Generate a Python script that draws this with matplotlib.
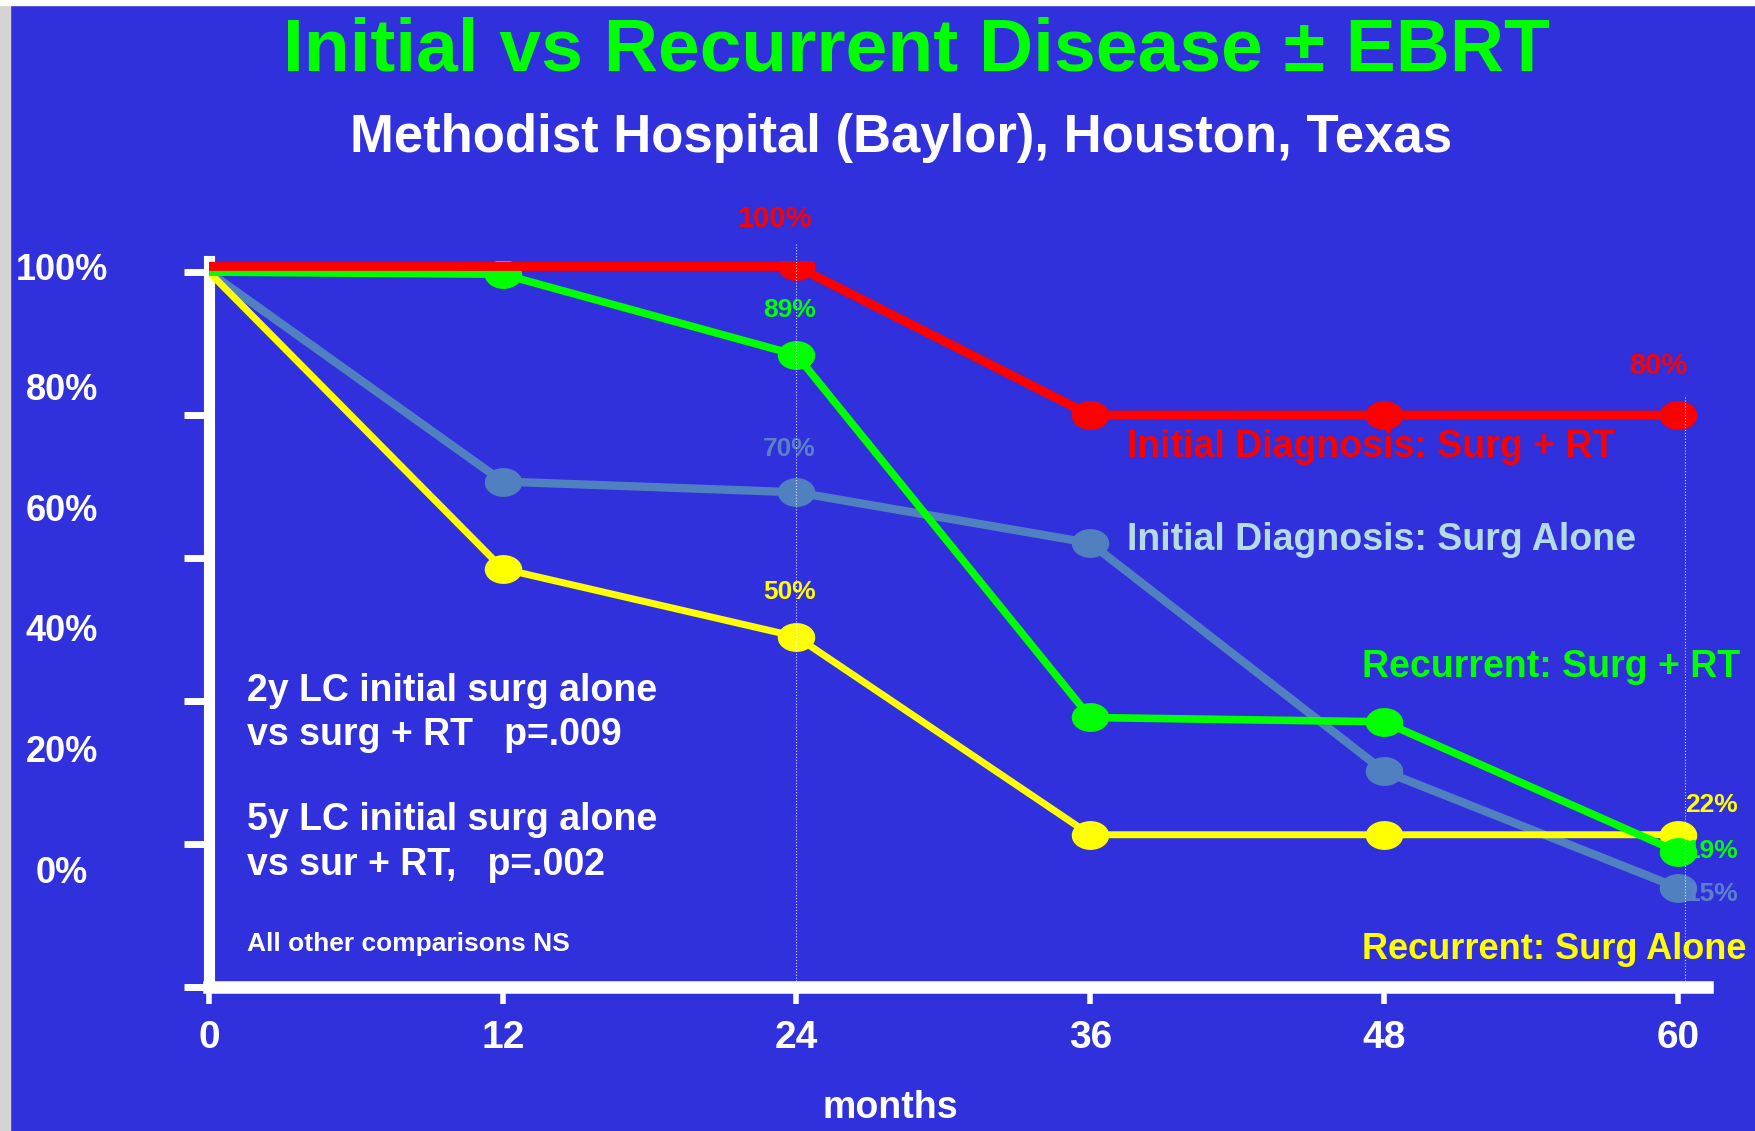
import numpy as np
import matplotlib
matplotlib.use('Agg')
import matplotlib.pyplot as plt
from matplotlib.path import Path
from matplotlib.patches import Rectangle
from matplotlib import font_manager

# local control (%)
months = [0, 12, 24, 36, 48, 60]
init_rt = [100.8, 100.8, 100.8, 80, 80, 80]
init_alone = [100, 70.7, 69.2, 62.1, 30.2, 13.9]
rec_rt = [100, 99.7, 88.4, 37.7, 37.1, 18.9]
rec_alone = [100, 58.5, 49.0, 21.3, 21.3, 21.3]

y_ticks = [0, 20, 40, 60, 80, 100]
y_labels = ['0%', '20%', '40%', '60%', '80%', '100%']
x_labels = ['0', '12', '24', '36', '48', '60']

BG = '#3030DD'
RED = '#FF0000'
GREEN = '#00FF00'
YELLOW = '#FFFF00'
GREY = '#5080C0'

names = {f.name for f in font_manager.fontManager.ttflist}
NARROW = 'Liberation Sans Narrow' if 'Liberation Sans Narrow' in names else 'Liberation Sans'
WIDE = 'Liberation Sans'

# oval marker (wider than tall, like the slide)
t = np.linspace(0, 2 * np.pi, 60)
oval = Path(np.column_stack([np.cos(t), 0.76 * np.sin(t)]))

fig = plt.figure(figsize=(17.55, 11.31), dpi=100, facecolor=BG)
fig.patches.append(Rectangle((0, 0), 10 / 1755, 1, transform=fig.transFigure,
                             color='#D4D4D4', zorder=0))
fig.patches.append(Rectangle((0, 1 - 5 / 1131), 1, 5 / 1131, transform=fig.transFigure,
                             color='white', zorder=0))

ax = fig.add_axes([0.1191, 0.1273, 0.8536, 0.6416])
ax.set_facecolor(BG)
ax.set_xlim(0, 61.2)
ax.set_ylim(0, 101.5)

ax.plot(months, init_alone, color=GREY, lw=6, marker=oval, ms=26, mec=GREY,
        markevery=[1, 2, 3, 4, 5], zorder=2)
ax.plot(months, rec_alone, color=YELLOW, lw=5, marker=oval, ms=26, mec=YELLOW,
        markevery=[1, 2, 3, 4, 5], zorder=3)
ax.plot(months, rec_rt, color=GREEN, lw=5.5, marker=oval, ms=26, mec=GREEN,
        markevery=[1, 2, 3, 4, 5], zorder=4)
ax.plot(months, init_rt, color=RED, lw=6.5, marker=oval, ms=26, mec=RED,
        markevery=[2, 3, 4, 5], zorder=5)

ax.vlines([24, 60.3], 0, [104, 82.8], colors='white', linestyles=':', lw=0.8,
          alpha=0.8, clip_on=False, zorder=6)

for s in ['top', 'right']:
    ax.spines[s].set_visible(False)
ax.spines['left'].set_linewidth(8)
ax.spines['bottom'].set_linewidth(9)
ax.spines['left'].set_color('white')
ax.spines['bottom'].set_color('white')

ax.set_yticks(y_ticks, [])
ax.tick_params(axis='y', length=18, width=5, color='white')
ax.set_xticks(months, x_labels)
ax.tick_params(axis='x', length=12, width=4, color='white', pad=12,
               labelsize=28, labelcolor='white')
for lab in ax.get_xticklabels():
    lab.set_fontfamily(NARROW)
    lab.set_fontweight('bold')

# the slide's y labels sit off their ticks, so they get their own scale
ax2 = ax.twinx()
ax2.set_ylim((0 - 16.5) / 0.843, (101.5 - 16.5) / 0.843)
ax2.set_yticks(y_ticks, y_labels)
ax2.yaxis.set_ticks_position('left')
ax2.tick_params(axis='y', length=0, pad=106, labelsize=26, labelcolor='white')
for lab in ax2.get_yticklabels():
    lab.set_ha('center')
    lab.set_fontfamily(WIDE)
    lab.set_fontweight('bold')
for s in ax2.spines.values():
    s.set_visible(False)

fig.text(0.522, 0.9381, 'Initial vs Recurrent Disease \u00b1 EBRT', color=GREEN,
         fontsize=54, fontweight='bold', family=NARROW, ha='center', va='baseline')
fig.text(0.5134, 0.8656, 'Methodist Hospital (Baylor), Houston, Texas', color='white',
         fontsize=38, fontweight='bold', family=NARROW, ha='center', va='baseline')
fig.text(0.5071, 0.0203, 'months', color='white', fontsize=27, fontweight='bold',
         family=NARROW, ha='center', va='center')

# point labels
ax.text(23.1, 107.4, '100%', color=RED, fontsize=21, fontweight='bold', family=NARROW,
        ha='center', va='center')
ax.text(23.7, 94.7, '89%', color=GREEN, fontsize=19, fontweight='bold', family=WIDE,
        ha='center', va='center')
ax.text(23.7, 75.2, '70%', color='#5A80C8', fontsize=19, fontweight='bold', family=WIDE,
        ha='center', va='center')
ax.text(23.7, 55.2, '50%', color=YELLOW, fontsize=19, fontweight='bold', family=WIDE,
        ha='center', va='center')
ax.text(59.2, 86.9, '80%', color=RED, fontsize=21, fontweight='bold', family=NARROW,
        ha='center', va='center')
ax.text(61.4, 25.5, '22%', color=YELLOW, fontsize=19, fontweight='bold', family=WIDE,
        ha='center', va='center', clip_on=False)
ax.text(61.4, 19.0, '19%', color=GREEN, fontsize=19, fontweight='bold', family=WIDE,
        ha='center', va='center', clip_on=False)
ax.text(61.4, 13.0, '15%', color='#5A80C8', fontsize=19, fontweight='bold', family=WIDE,
        ha='center', va='center', clip_on=False)

# series names
ax.text(37.5, 75.5, 'Initial Diagnosis: Surg + RT', color=RED, fontsize=27,
        fontweight='bold', family=NARROW, va='center')
ax.text(37.5, 62.5, 'Initial Diagnosis: Surg Alone', color='#B4DCE6', fontsize=27,
        fontweight='bold', family=NARROW, va='center')
ax.text(47.1, 44.8, 'Recurrent: Surg + RT', color=GREEN, fontsize=27,
        fontweight='bold', family=NARROW, va='center', clip_on=False)
ax.text(47.1, 5.2, 'Recurrent: Surg Alone', color=YELLOW, fontsize=26,
        fontweight='bold', family=WIDE, va='center', clip_on=False)

# p-value notes
notes = [(41.4, '2y LC initial surg alone', 27), (35.2, 'vs surg + RT   p=.009', 27),
         (23.4, '5y LC initial surg alone', 27), (17.1, 'vs sur + RT,   p=.002', 27),
         (6.0, 'All other comparisons NS', 19)]
for yy, txt, fs in notes:
    ax.text(1.55, yy, txt, color='white', fontsize=fs, fontweight='bold', family=NARROW,
            va='center')

fig.savefig('out.png', dpi=100, facecolor=BG)
